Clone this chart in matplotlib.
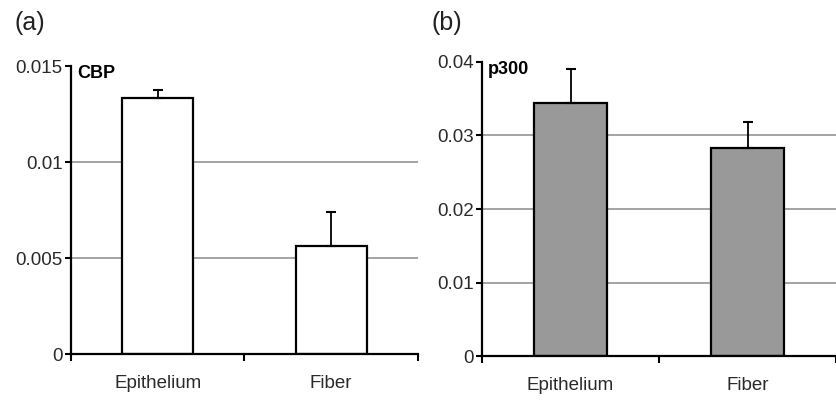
import matplotlib.pyplot as plt
import numpy as np

plt.rcParams["font.family"] = ["Liberation Sans", "DejaVu Sans"]

categories = ["Epithelium", "Fiber"]

cbp_values = [0.01333, 0.00563]
cbp_errors = [0.00042, 0.00177]

p300_values = [0.0344, 0.0283]
p300_errors = [0.0046, 0.0035]

text_color = "#2a2a2a"


def draw_panel(ax, values, errors, face, label, ymax, yticks, yticklabels, grid_ticks):
    x = np.arange(len(categories))
    for g in grid_ticks:
        ax.axhline(g, color="#8a8a8a", lw=1.1, zorder=0)
    ax.bar(x, values, width=0.41, color=face, edgecolor="black", linewidth=1.6, zorder=2)
    ax.errorbar(x, values, yerr=[np.zeros(len(values)), errors], fmt="none",
                ecolor="black", elinewidth=1.3, capsize=3.5, capthick=1.5, zorder=3)

    ax.set_xlim(-0.5, 1.5)
    ax.set_ylim(0, ymax)
    ax.set_yticks(yticks)
    ax.set_yticklabels(yticklabels)
    ax.set_xticks(x)
    ax.set_xticklabels(categories)
    ax.set_xticks([-0.5, 0.5, 1.5], minor=True)
    ax.tick_params(axis="x", which="major", length=0, pad=15, labelsize=13.5, labelcolor=text_color)
    ax.tick_params(axis="x", which="minor", length=5, width=1.5, direction="out")
    ax.tick_params(axis="y", length=4, width=1.5, direction="out", labelsize=13.5,
                   labelcolor=text_color, pad=2)

    for s in ["top", "right"]:
        ax.spines[s].set_visible(False)
    for s in ["left", "bottom"]:
        ax.spines[s].set_linewidth(1.6)
        ax.spines[s].set_color("black")

    ax.text(0.017, 1.005, label, transform=ax.transAxes, fontsize=13, fontweight="bold",
            va="top", ha="left", color="black")
    return ax


fig = plt.figure(figsize=(8.36, 4.01), dpi=100)

ax1 = fig.add_axes([0.0849, 0.1172, 0.4151, 0.7182])
draw_panel(ax1, cbp_values, cbp_errors, "white", "CBP", 0.015,
           [0, 0.005, 0.01, 0.015], ["0", "0.005", "0.01", "0.015"], [0.005, 0.01])

ax2 = fig.add_axes([0.5766, 0.1122, 0.4234, 0.7332])
draw_panel(ax2, p300_values, p300_errors, "#999999", "p300", 0.04,
           [0, 0.01, 0.02, 0.03, 0.04], ["0", "0.01", "0.02", "0.03", "0.04"],
           [0.01, 0.02, 0.03])

fig.text(0.017, 0.942, "(a)", fontsize=18, va="center", ha="left", color="#222222")
fig.text(0.516, 0.942, "(b)", fontsize=18, va="center", ha="left", color="#222222")

fig.savefig("out.png", dpi=100)
